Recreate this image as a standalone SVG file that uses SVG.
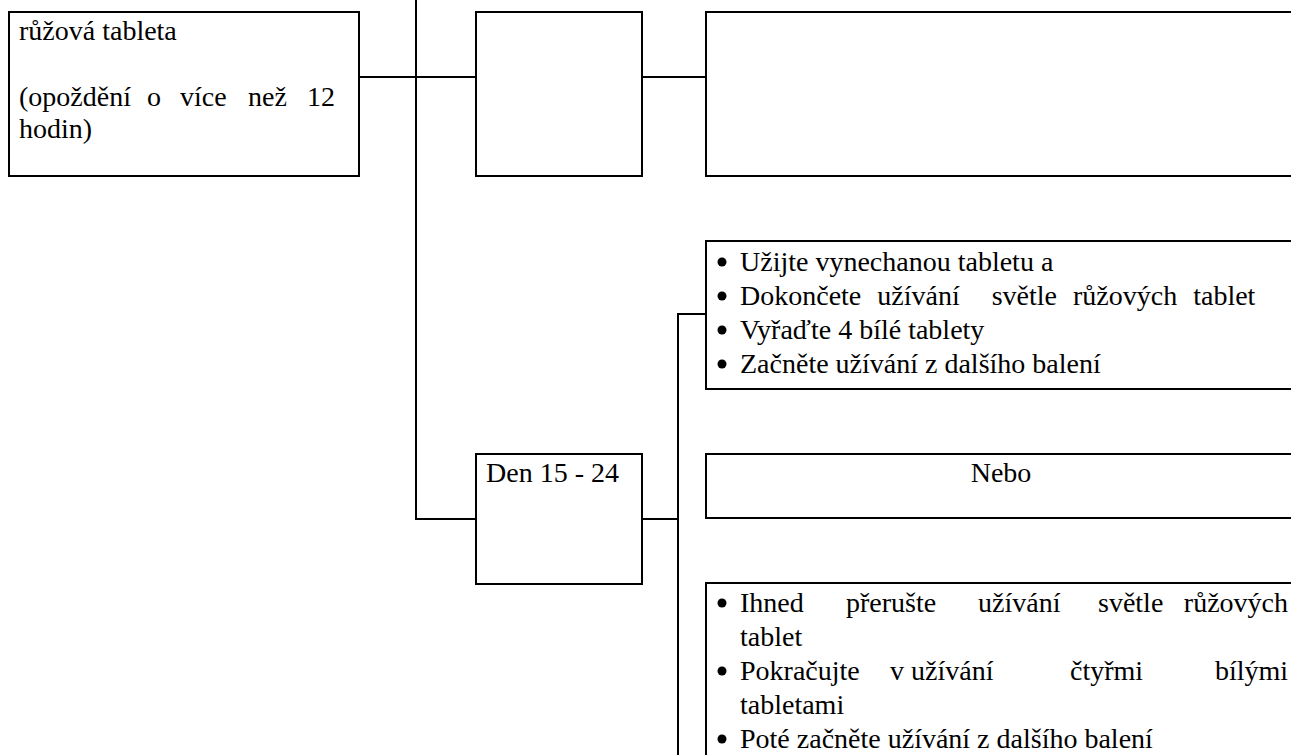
<svg xmlns="http://www.w3.org/2000/svg" width="1291" height="755" viewBox="0 0 1291 755">
<style>
.box{fill:#fff;stroke:#000;stroke-width:2}
.ln{fill:none;stroke:#000;stroke-width:2}
.dot{fill:#000}
text{font-family:"Liberation Serif","Times New Roman",serif;font-size:28px;fill:#000}
</style>
<rect width="1291" height="755" fill="#fff"/>
<g id="connectors">
<path class="ln" d="M416 0V519H476"/>
<path class="ln" d="M359 77H476"/>
<path class="ln" d="M642 77H706"/>
<path class="ln" d="M642 519H678"/>
<path class="ln" d="M678 755V314H706"/>
</g>
<g id="n1">
<rect class="box" x="9" y="12" width="350" height="164"/>
<text x="19" y="40">růžová tableta</text>
<text y="106"><tspan x="19">(opoždění</tspan><tspan x="147">o</tspan><tspan x="180">více</tspan><tspan x="248">než</tspan><tspan x="307">12</tspan></text>
<text x="19" y="138">hodin)</text>
</g>
<g id="n2"><rect class="box" x="476" y="12" width="166" height="164"/></g>
<g id="n3"><rect class="box" x="706" y="12" width="600" height="164"/></g>
<g id="n4">
<rect class="box" x="706" y="241" width="600" height="148"/>
<circle class="dot" cx="722" cy="262" r="4.5"/><text x="740" y="271">Užijte vynechanou tabletu a</text>
<circle class="dot" cx="722" cy="296" r="4.5"/><text x="740" y="305" xml:space="preserve" word-spacing="9">Dokončete užívání  světle růžových tablet</text>
<circle class="dot" cx="722" cy="330" r="4.5"/><text x="740" y="339">Vyřaďte 4 bílé tablety</text>
<circle class="dot" cx="722" cy="364" r="4.5"/><text x="740" y="373">Začněte užívání z dalšího balení</text>
</g>
<g id="n5">
<rect class="box" x="706" y="454" width="600" height="64"/>
<text x="1001" y="482" text-anchor="middle">Nebo</text>
</g>
<g id="n6">
<rect class="box" x="476" y="454" width="166" height="130"/>
<text x="486" y="482">Den 15 - 24</text>
</g>
<g id="n7">
<rect class="box" x="706" y="583" width="600" height="220"/>
<circle class="dot" cx="722" cy="603" r="4.5"/><text y="612"><tspan x="740">Ihned</tspan><tspan x="846">přerušte</tspan><tspan x="978">užívání</tspan><tspan x="1098">světle</tspan><tspan x="1288" text-anchor="end">růžových</tspan></text>
<text x="740" y="646">tablet</text>
<circle class="dot" cx="722" cy="671" r="4.5"/><text y="680"><tspan x="740">Pokračujte</tspan><tspan x="890">v užívání</tspan><tspan x="1070">čtyřmi</tspan><tspan x="1288" text-anchor="end">bílými</tspan></text>
<text x="740" y="714">tabletami</text>
<circle class="dot" cx="722" cy="739" r="4.5"/><text x="740" y="748">Poté začněte užívání z dalšího balení</text>
</g>
</svg>
